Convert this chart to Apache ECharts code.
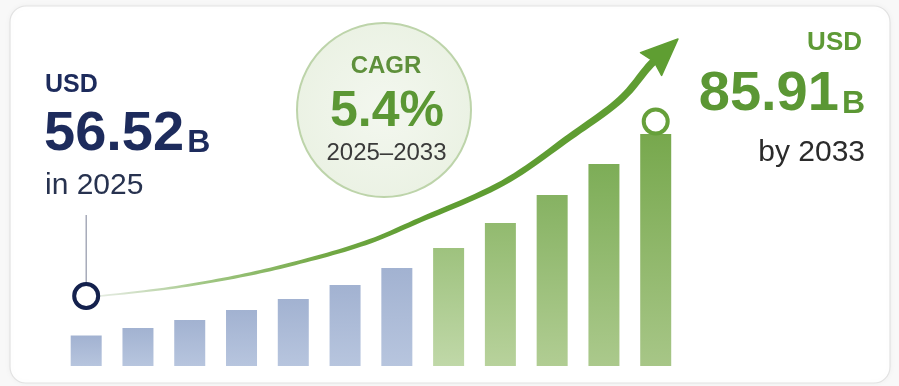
<!DOCTYPE html>
<html>
<head>
<meta charset="utf-8">
<script src="https://cdn.jsdelivr.net/npm/echarts@6/dist/echarts.min.js"></script>
<style>
  html, body { margin: 0; padding: 0; background: #f8f8f8; }
  #chart { width: 899px; height: 386px; }
</style>
</head>
<body>
<div id="chart"></div>
<script>
// ---- data ----
const periods = ['P01', 'P02', 'P03', 'P04', 'P05', 'P06', 'P07', 'P08', 'P09', 'P10', 'P11', 'P12'];
const barValues = [30.5, 38, 46, 56, 67, 81, 98, 118, 143, 171, 202, 232];
const blueCount = 7;

// growth arrow path (x in bar-index units, y in bar-height units)
const curveX = [0.27, 1.62, 2.97, 4.13, 5.39, 6.45, 8.05, 9.34, 10.31, 10.91, 11.43];
const curveY = [70, 78, 90, 104, 123, 146, 183, 229, 266, 302, 327];

// endpoint markers and the leader line above the first one
const startMarker = [0, 70];
const endMarker = [11, 244.5];
const leaderX = [0, 0];
const leaderY = [84, 151];

// headline texts
const startText = ['USD', '56.52', 'B', 'in 2025'];
const endText = ['USD', '85.91', 'B', 'by 2033'];
const badgeText = ['CAGR', '5.4%', '2025\u20132033'];

// ---- chart ----
const FONT = '"Liberation Sans", Arial, sans-serif';
const chart = echarts.init(document.getElementById('chart'), null, { renderer: 'canvas' });

const measureCtx = document.createElement('canvas').getContext('2d');
function textWidth(str, font) { measureCtx.font = font; return measureCtx.measureText(str).width; }

const blueTop = '#a2b2d1', blueBottom = '#b7c5de';
const greenTops = ['#9ec27e', '#92ba6f', '#86b262', '#7dad57', '#77a84d'];
const greenBottoms = ['#c0d8a8', '#b8d29c', '#b1cd93', '#abc98c', '#a7c687'];

const barData = barValues.map((v, i) => {
  const top = i < blueCount ? blueTop : greenTops[i - blueCount];
  const bottom = i < blueCount ? blueBottom : greenBottoms[i - blueCount];
  return {
    value: v,
    itemStyle: {
      color: new echarts.graphic.LinearGradient(0, 0, 0, 1, [
        { offset: 0, color: top }, { offset: 1, color: bottom }
      ])
    }
  };
});

function renderArrow(params, api) {
  if (params.dataIndex !== 0) return null;
  const pts = curveX.map((x, i) => api.coord([x, curveY[i]]));
  const n = pts.length;
  const tip = pts[n - 1];
  const baseMid = pts[n - 2];
  // shaft: Catmull-Rom through all points except the tip
  const samples = [];
  for (let i = 0; i < n - 2; i++) {
    const p0 = pts[Math.max(i - 1, 0)], p1 = pts[i], p2 = pts[i + 1], p3 = pts[Math.min(i + 2, n - 1)];
    for (let s = 0; s < 12; s++) {
      const t = s / 12, t2 = t * t, t3 = t2 * t;
      const f = (a, b, c, d) => 0.5 * ((2 * b) + (-a + c) * t + (2 * a - 5 * b + 4 * c - d) * t2 + (-a + 3 * b - 3 * c + d) * t3);
      samples.push([f(p0[0], p1[0], p2[0], p3[0]), f(p0[1], p1[1], p2[1], p3[1])]);
    }
  }
  samples.push(baseMid);
  const dx = tip[0] - baseMid[0], dy = tip[1] - baseMid[1];
  const dl = Math.hypot(dx, dy);
  const ux = dx / dl, uy = dy / dl;
  samples.push([baseMid[0] + ux * 6, baseMid[1] + uy * 6]);

  // tapered outline
  const lens = [0];
  for (let i = 1; i < samples.length; i++) {
    lens.push(lens[i - 1] + Math.hypot(samples[i][0] - samples[i - 1][0], samples[i][1] - samples[i - 1][1]));
  }
  const total = lens[lens.length - 1];
  const left = [], right = [];
  for (let i = 0; i < samples.length; i++) {
    const a = samples[Math.max(i - 1, 0)], b = samples[Math.min(i + 1, samples.length - 1)];
    const tx = b[0] - a[0], ty = b[1] - a[1], tl = Math.hypot(tx, ty) || 1;
    const nx = -ty / tl, ny = tx / tl;
    const w = (1.6 + 6.2 * Math.pow(lens[i] / total, 0.9)) / 2;
    left.push([samples[i][0] + nx * w, samples[i][1] + ny * w]);
    right.push([samples[i][0] - nx * w, samples[i][1] - ny * w]);
  }
  const outline = left.concat(right.reverse());

  const half = 15.5;
  const px = -uy, py = ux;
  const head = [
    tip,
    [baseMid[0] + px * half, baseMid[1] + py * half],
    [baseMid[0] + ux * 4, baseMid[1] + uy * 4],
    [baseMid[0] - px * half, baseMid[1] - py * half]
  ];

  const g0 = pts[0], g1 = pts[5];
  return {
    type: 'group',
    children: [
      {
        type: 'polygon',
        shape: { points: outline, smooth: 0 },
        style: {
          fill: new echarts.graphic.LinearGradient(g0[0], g0[1], g1[0], g1[1], [
            { offset: 0, color: 'rgba(205,218,198,0.55)' },
            { offset: 0.3, color: '#a3c887' },
            { offset: 0.7, color: '#72a845' },
            { offset: 1, color: '#5f9d32' }
          ], true)
        }
      },
      {
        type: 'polygon',
        shape: { points: head },
        style: { fill: '#5f9e32', stroke: '#5f9e32', lineWidth: 1.5, lineJoin: 'round' }
      }
    ]
  };
}

// headline text placement
const numFont = 'bold 56px ' + FONT;
const bFont = 'bold 32px ' + FONT;
const startNumW = textWidth(startText[1], numFont);
const endBW = textWidth(endText[2], bFont);
const rightEdge = 865;

const navy = '#1d2b5c';
const green = '#5b9734';

const graphics = [
  // card
  {
    type: 'rect', z: -10, silent: true,
    shape: { x: 10, y: 6, width: 880, height: 377, r: 16 },
    style: { fill: '#ffffff', stroke: '#e2e2e2', lineWidth: 1.2, shadowBlur: 6, shadowColor: 'rgba(0,0,0,0.05)' }
  },
  // CAGR badge
  {
    type: 'circle', z: -5, silent: true,
    shape: { cx: 384, cy: 110, r: 87 },
    style: {
      fill: new echarts.graphic.RadialGradient(0.5, 0.5, 0.5, [
        { offset: 0, color: '#f3f7ef' }, { offset: 1, color: '#ebf2e4' }
      ]),
      stroke: '#bdd4aa', lineWidth: 2
    }
  },
  { type: 'text', z: 100, style: { x: 386, y: 66.5, text: badgeText[0], font: 'bold 24px ' + FONT, fill: '#5e903b', align: 'center', verticalAlign: 'middle' } },
  { type: 'text', z: 100, style: { x: 387, y: 112.5, text: badgeText[1], font: 'bold 50px ' + FONT, fill: green, align: 'center', verticalAlign: 'middle' } },
  { type: 'text', z: 100, style: { x: 386.5, y: 153.5, text: badgeText[2], font: '24px ' + FONT, fill: '#3a3a3a', align: 'center', verticalAlign: 'middle' } },

  // left headline
  { type: 'text', z: 100, style: { x: 45, y: 85, text: startText[0], font: 'bold 25px ' + FONT, fill: navy, align: 'left', verticalAlign: 'middle' } },
  { type: 'text', z: 100, style: { x: 44, y: 135, text: startText[1], font: numFont, fill: navy, align: 'left', verticalAlign: 'middle' } },
  { type: 'text', z: 100, style: { x: 44 + startNumW + 3, y: 143.5, text: startText[2], font: bFont, fill: navy, align: 'left', verticalAlign: 'middle' } },
  { type: 'text', z: 100, style: { x: 45, y: 186, text: startText[3], font: '30px ' + FONT, fill: '#27324f', align: 'left', verticalAlign: 'middle' } },

  // right headline
  { type: 'text', z: 100, style: { x: 862, y: 42.5, text: endText[0], font: 'bold 26px ' + FONT, fill: '#5e9a36', align: 'right', verticalAlign: 'middle' } },
  { type: 'text', z: 100, style: { x: rightEdge - endBW - 3, y: 95, text: endText[1], font: numFont, fill: green, align: 'right', verticalAlign: 'middle' } },
  { type: 'text', z: 100, style: { x: rightEdge, y: 104, text: endText[2], font: bFont, fill: green, align: 'right', verticalAlign: 'middle' } },
  { type: 'text', z: 100, style: { x: rightEdge, y: 153, text: endText[3], font: '30px ' + FONT, fill: '#2b2b2b', align: 'right', verticalAlign: 'middle' } }
];

chart.setOption({
  animation: false,
  backgroundColor: 'transparent',
  grid: { left: 60.3, right: 217.4, top: 26, bottom: 20, containLabel: false },
  xAxis: [
    { type: 'category', data: periods, show: false, boundaryGap: true },
    { type: 'value', min: -0.5, max: 11.5, show: false }
  ],
  yAxis: { type: 'value', min: 0, max: 340, show: false },
  graphic: graphics,
  series: [
    {
      type: 'bar', xAxisIndex: 0, barWidth: 31, data: barData, z: 2, silent: true
    },
    {
      type: 'line', xAxisIndex: 1, data: leaderX.map((x, i) => [x, leaderY[i]]),
      symbol: 'none', lineStyle: { color: '#9096a8', width: 1.2 }, z: 3, silent: true
    },
    {
      type: 'custom', xAxisIndex: 1, coordinateSystem: 'cartesian2d',
      data: curveX.map((x, i) => [x, curveY[i]]),
      encode: { x: 0, y: 1 }, renderItem: renderArrow, z: 4, silent: true
    },
    {
      type: 'scatter', xAxisIndex: 1, symbol: 'circle', symbolSize: 24, z: 5, silent: true,
      data: [
        { value: startMarker, itemStyle: { color: '#ffffff', borderColor: '#14214d', borderWidth: 4, opacity: 1 } },
        { value: endMarker, itemStyle: { color: '#ffffff', borderColor: '#66a03a', borderWidth: 4, opacity: 1 } }
      ]
    }
  ]
});
</script>
</body>
</html>
